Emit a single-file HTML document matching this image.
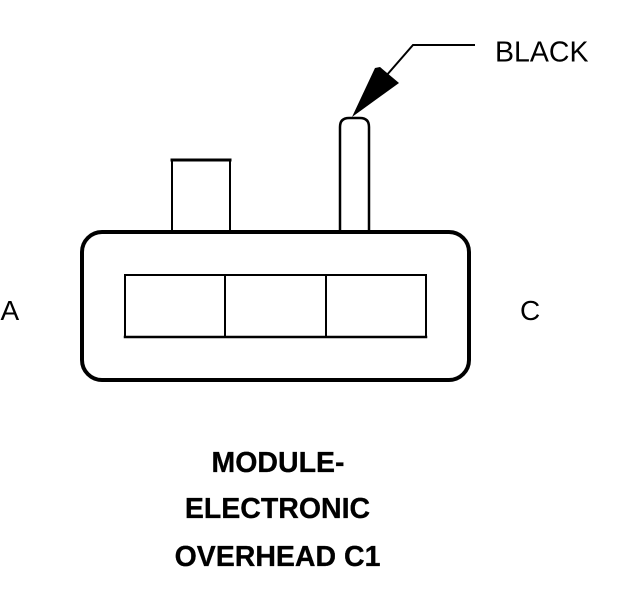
<!DOCTYPE html>
<html>
<head>
<meta charset="utf-8">
<style>
html,body{margin:0;padding:0;background:#fff;}
svg{display:block;}
text{font-family:"Liberation Sans",Arial,sans-serif;fill:#000;}
</style>
</head>
<body>
<svg width="624" height="600" viewBox="0 0 624 600" xmlns="http://www.w3.org/2000/svg">
<rect width="624" height="600" fill="#fff"/>
<g fill="none" stroke="#000" stroke-linecap="square">
<rect x="82" y="232" width="387" height="148" rx="20" ry="20" stroke-width="4"/>
<path d="M172 232V160M230 232V160" stroke-width="2"/>
<path d="M172 160H230" stroke-width="3"/>
<path d="M340 232V127Q340 118 349 118H360Q369 118 369 127V232" stroke-width="2.5"/>
<path d="M125 275V337M225 275V337M326 275V337M426 275V337M125 275H426" stroke-width="2"/>
<path d="M125 337H426" stroke-width="2.5"/>
<path d="M474 45H413L386 76" stroke-width="2"/>
</g>
<path d="M352 117L375 68L380 67L399 83Z" fill="#000"/>
<text x="495" y="61.5" font-size="28.5">BLACK</text>
<text x="0.5" y="320" font-size="28">A</text>
<text x="520" y="320" font-size="28">C</text>
<g font-size="28.5" font-weight="bold" text-anchor="middle" stroke="#000" stroke-width="0.3">
<text x="278" y="472">MODULE-</text>
<text x="277.5" y="518">ELECTRONIC</text>
<text x="277.5" y="566">OVERHEAD C1</text>
</g>
</svg>
</body>
</html>
